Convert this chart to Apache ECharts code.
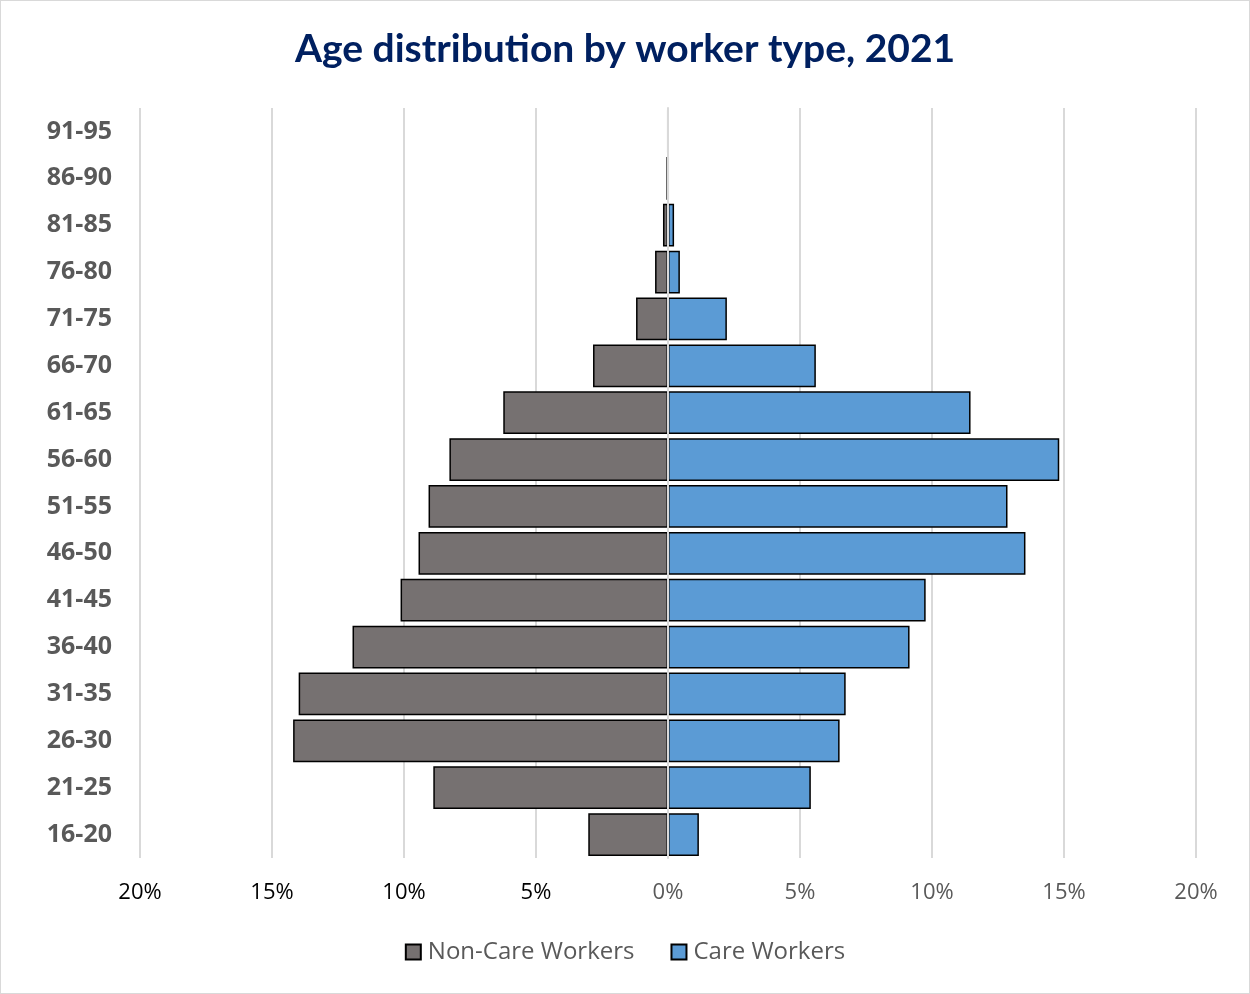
<!DOCTYPE html>
<html>
<head>
<meta charset="utf-8">
<script src="https://cdn.jsdelivr.net/npm/echarts@6/dist/echarts.min.js"></script>
<style>
html,body{margin:0;padding:0;background:#fff;}
#chart{width:1250px;height:994px;box-sizing:border-box;border:1px solid #d9d9d9;}
</style>
</head>
<body>
<div id="chart"></div>
<script>
const categories = ['16-20','21-25','26-30','31-35','36-40','41-45','46-50','51-55','56-60','61-65','66-70','71-75','76-80','81-85','86-90','91-95'];
const nonCareWorkers = [3.02, 8.89, 14.2, 13.99, 11.95, 10.13, 9.45, 9.07, 8.28, 6.24, 2.84, 1.21, 0.49, 0.19, 0.06, 0.02];
const careWorkers = [1.17, 5.41, 6.5, 6.73, 9.15, 9.76, 13.54, 12.86, 14.82, 11.46, 5.6, 2.23, 0.45, 0.23, 0.02, 0.01];
const xTicks = [-20, -15, -10, -5, 0, 5, 10, 15, 20];

const chart = echarts.init(document.getElementById('chart'));
chart.setOption({
  animation: false,
  title: {
    text: 'Age distribution by worker type, 2021',
    left: 'center', top: 24,
    textStyle: {fontFamily: 'Lato', fontWeight: 'bold', fontSize: 39, color: '#002060'}
  },
  legend: {
    bottom: 24, left: 'center',
    itemWidth: 15, itemHeight: 15, itemGap: 36,
    icon: 'rect',
    textStyle: {fontFamily: 'Open Sans', fontSize: 24, color: '#595959', padding: [0, 0, 0, 2]},
    data: ['Non-Care Workers', 'Care Workers']
  },
  grid: {left: 139, right: 53, top: 107, bottom: 135, containLabel: false},
  xAxis: {
    type: 'value', min: xTicks[0], max: xTicks[xTicks.length - 1], interval: 5,
    axisLine: {show: false}, axisTick: {show: false},
    splitLine: {show: true, lineStyle: {color: '#d9d9d9', width: 2}},
    axisLabel: {
      margin: 24,
      formatter: v => v < 0 ? '{a|' + Math.abs(v) + '%}' : '{b|' + v + '%}',
      rich: {
        a: {fontFamily: 'Open Sans', fontSize: 22, color: '#000'},
        b: {fontFamily: 'Open Sans', fontSize: 22, color: '#595959'}
      }
    }
  },
  yAxis: {
    type: 'category', data: categories, z: 10,
    axisTick: {show: false},
    axisLine: {show: true, onZero: true, lineStyle: {color: '#d9d9d9', width: 2}},
    axisLabel: {
      fontFamily: 'Open Sans', fontWeight: 'bold', fontSize: 25, color: '#595959',
      margin: 28
    }
  },
  series: [
    {
      name: 'Non-Care Workers', type: 'bar', barGap: '-100%', barCategoryGap: '9%',
      data: nonCareWorkers.map(v => -v),
      itemStyle: {color: '#767171', borderColor: '#000', borderWidth: 1.5}
    },
    {
      name: 'Care Workers', type: 'bar', barGap: '-100%', barCategoryGap: '9%',
      data: careWorkers,
      itemStyle: {color: '#5b9bd5', borderColor: '#000', borderWidth: 1.5}
    }
  ]
});
</script>
</body>
</html>
